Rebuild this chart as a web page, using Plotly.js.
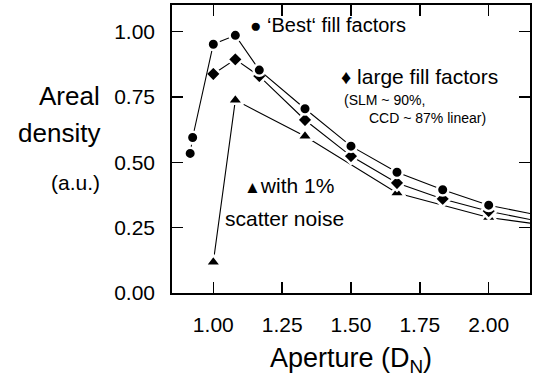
<!DOCTYPE html>
<html>
<head>
<meta charset="utf-8">
<script src="https://cdn.plot.ly/plotly-3.0.1.min.js"></script>
<style>html,body{margin:0;padding:0;background:#fff;}#chart{width:535px;height:389px;}</style>
</head>
<body>
<div id="chart"></div>
<script>
// Aperture values (D_N); the last entry of each series is where its line leaves the plot (no marker drawn)
const apertureBest = [0.925, 1.0, 1.08, 1.167, 1.333, 1.5, 1.667, 1.833, 2.0, 2.16];
const densityBest  = [0.595, 0.952, 0.986, 0.853, 0.705, 0.562, 0.462, 0.395, 0.336, 0.302];
const apertureBestLow = [0.916, 0.925];
const densityBestLow  = [0.534, 0.595];
const apertureLarge = [1.0, 1.08, 1.167, 1.333, 1.5, 1.667, 1.833, 2.0, 2.16];
const densityLarge  = [0.838, 0.894, 0.830, 0.662, 0.524, 0.421, 0.360, 0.313, 0.279];
const apertureNoise = [1.0, 1.08, 1.333, 1.667, 2.0, 2.16];
const densityNoise  = [0.118, 0.738, 0.600, 0.383, 0.289, 0.266];
const xTickVals = [1.0, 1.25, 1.5, 1.75, 2.0];
const xTickText = ['1.00', '1.25', '1.50', '1.75', '2.00'];
const yTickVals = [0, 0.25, 0.5, 0.75, 1.0];
const yTickText = ['0.00', '0.25', '0.50', '0.75', '1.00'];

const FONT = 'Liberation Sans, Arial, sans-serif';
function sizes(arr, s) { return arr.map((v, i) => (i === arr.length - 1 ? 0 : s)); }
const mk = (sym, size) => ({symbol: sym, size: size, opacity: 1, color: '#000', line: {color: '#fff', width: 2.5}});

const traces = [
  {x: apertureBestLow, y: densityBestLow, mode: 'lines+markers', line: {color: '#000', width: 1, dash: 'dot'}, marker: mk('circle', 11.5)},
  {x: apertureNoise, y: densityNoise, mode: 'lines+markers', line: {color: '#000', width: 1.1}, marker: mk('triangle-up', sizes(apertureNoise, 14))},
  {x: apertureLarge, y: densityLarge, mode: 'lines+markers', line: {color: '#000', width: 1.1}, marker: mk('diamond', sizes(apertureLarge, 12))},
  {x: apertureBest, y: densityBest, mode: 'lines+markers', line: {color: '#000', width: 1.1}, marker: mk('circle', sizes(apertureBest, 11.5))}
];

const ax = {
  showgrid: false, zeroline: false, showline: true, linecolor: '#000', linewidth: 1.8,
  mirror: 'ticks', ticks: 'inside', ticklen: 11, tickwidth: 1.3, tickcolor: '#000',
  tickfont: {family: FONT, size: 21, color: '#000'}
};

const layout = {
  width: 535, height: 389,
  margin: {l: 172, r: 5, t: 5, b: 96, pad: 0},
  paper_bgcolor: '#fff', plot_bgcolor: '#fff',
  showlegend: false,
  font: {family: FONT, color: '#000'},
  xaxis: Object.assign({}, ax, {range: [0.85, 2.15], tickvals: xTickVals, ticktext: xTickText, ticklabelstandoff: 12,
    title: {text: 'Aperture (D<sub>N</sub>)', font: {family: FONT, size: 27, color: '#000'}, standoff: 13}}),
  yaxis: Object.assign({}, ax, {range: [0, 1.102], tickvals: yTickVals, ticktext: yTickText, ticklabelstandoff: 11}),
  annotations: [
    {xref: 'paper', yref: 'paper', x: -0.195, y: 0.685, xanchor: 'right', yanchor: 'middle', showarrow: false, text: 'Areal', font: {family: FONT, size: 26, color: '#000'}},
    {xref: 'paper', yref: 'paper', x: -0.195, y: 0.556, xanchor: 'right', yanchor: 'middle', showarrow: false, text: 'density', font: {family: FONT, size: 26, color: '#000'}},
    {xref: 'paper', yref: 'paper', x: -0.195, y: 0.385, xanchor: 'right', yanchor: 'middle', showarrow: false, text: '(a.u.)', font: {family: FONT, size: 21, color: '#000'}},
    {xref: 'x', yref: 'y', x: 1.125, y: 1.026, xanchor: 'left', yanchor: 'middle', showarrow: false, text: '<span style="font-size:19px">●</span> ‘Best‘ fill factors', font: {family: FONT, size: 20, color: '#000'}},
    {xref: 'x', yref: 'y', x: 1.458, y: 0.827, xanchor: 'left', yanchor: 'middle', showarrow: false, text: '<span style="font-size:20px">♦</span> large fill factors', font: {family: FONT, size: 21, color: '#000'}},
    {xref: 'x', yref: 'y', x: 1.468, y: 0.738, xanchor: 'left', yanchor: 'middle', showarrow: false, text: '(SLM ~ 90%,', font: {family: FONT, size: 14, color: '#000'}},
    {xref: 'x', yref: 'y', x: 1.558, y: 0.669, xanchor: 'left', yanchor: 'middle', showarrow: false, text: 'CCD ~ 87% linear)', font: {family: FONT, size: 14, color: '#000'}},
    {xref: 'x', yref: 'y', x: 1.104, y: 0.413, xanchor: 'left', yanchor: 'middle', showarrow: false, text: '<span style="font-size:17px">▲</span>with 1%', font: {family: FONT, size: 21, color: '#000'}},
    {xref: 'x', yref: 'y', x: 1.035, y: 0.286, xanchor: 'left', yanchor: 'middle', showarrow: false, text: 'scatter noise', font: {family: FONT, size: 21, color: '#000'}}
  ]
};

Plotly.newPlot('chart', traces, layout, {staticPlot: true, displayModeBar: false});
</script>
</body>
</html>
